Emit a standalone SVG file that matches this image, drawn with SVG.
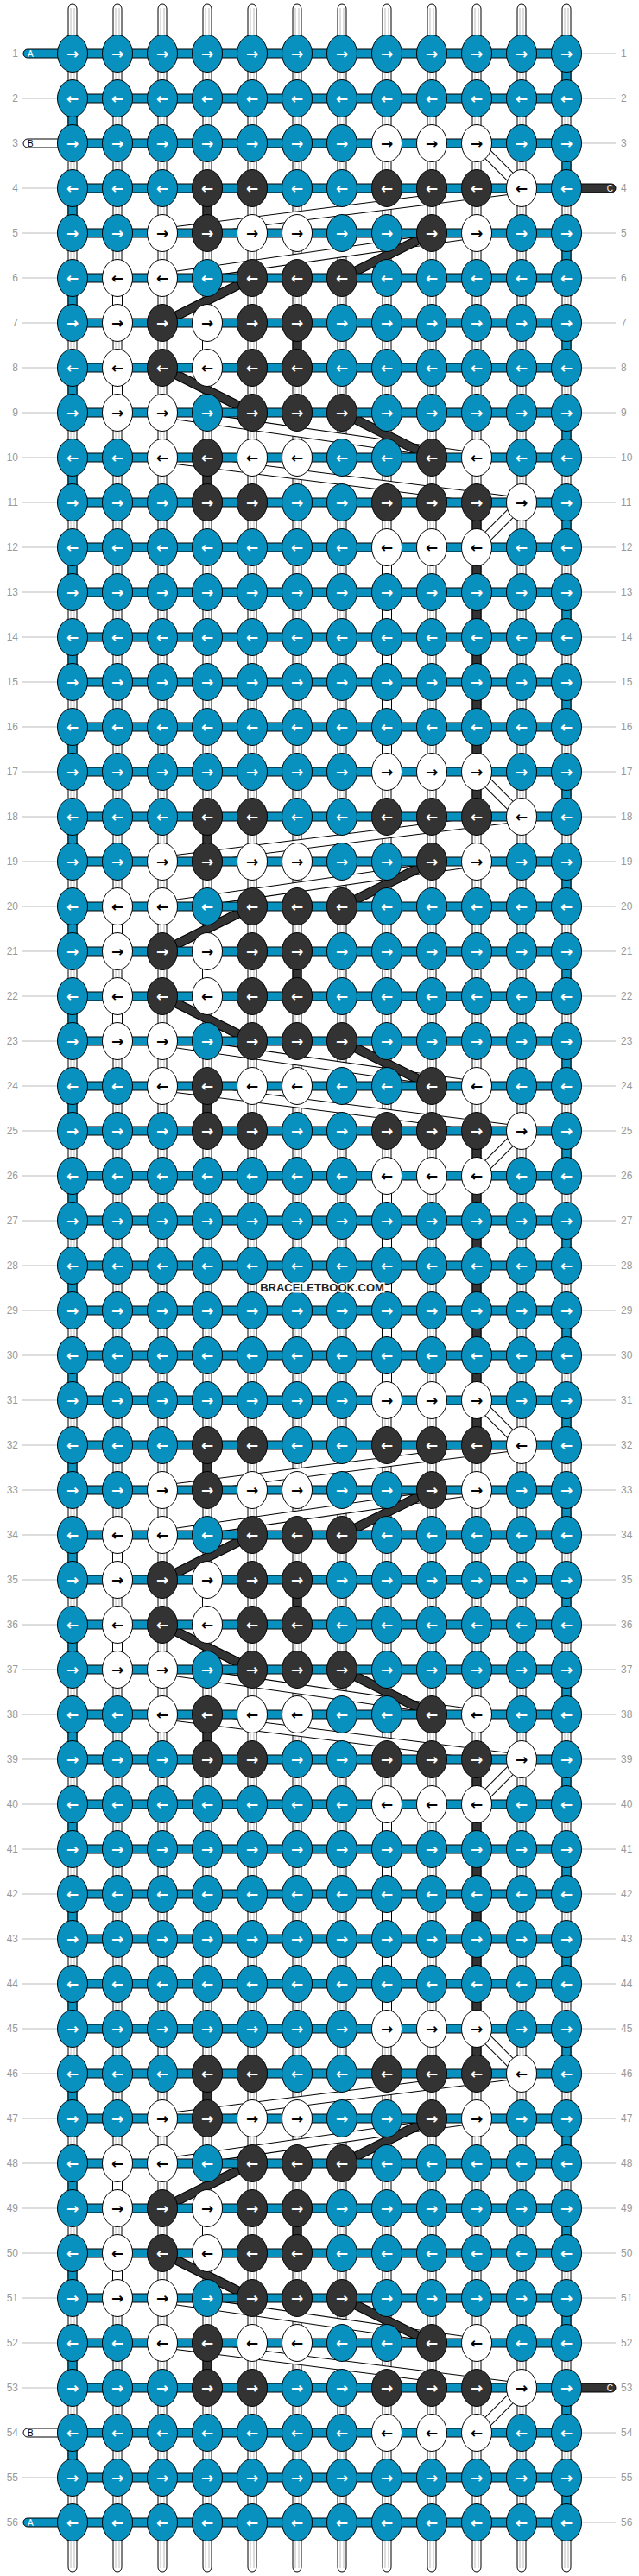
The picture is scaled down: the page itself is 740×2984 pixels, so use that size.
<svg xmlns="http://www.w3.org/2000/svg" width="740" height="2984" viewBox="0 0 740 2984">
<style>
.num{font-family:"Liberation Sans",Arial,sans-serif;font-size:12px;fill:#999}
.numL{text-anchor:end}
.gl{stroke:#bbb;stroke-width:1;fill:none}
.base{fill:#fff;stroke:#000;stroke-width:1}
.basein{stroke:#bbb;stroke-width:1;fill:none}
.ol{fill:none;stroke:#000;stroke-width:11;stroke-linejoin:round}
.fw{fill:none;stroke:#fff;stroke-width:9;stroke-linejoin:round}
.fd{fill:none;stroke:#333;stroke-width:9;stroke-linejoin:round}
.fb{fill:none;stroke:#0891be;stroke-width:9}
.band{fill:#0891be;stroke:#000;stroke-width:1}
.k{stroke:#000;stroke-width:1}
.b{fill:#0891be}.w{fill:#fff}.d{fill:#333}
.ar{font-family:"DejaVu Sans",sans-serif;font-size:17px;font-weight:bold;text-anchor:middle}
.aw{fill:#fff}.ab{fill:#000}
.stubt{font-family:"Liberation Sans",Arial,sans-serif;font-size:10px}
.wm{font-family:"Liberation Sans",Arial,sans-serif;font-size:13px;font-weight:bold;fill:#222;stroke:#fff;stroke-width:3;paint-order:stroke;text-anchor:middle}
</style>
<defs>
<g id="bR"><ellipse class="k b" rx="17.5" ry="21.5"/><text class="ar aw" y="6">→</text></g>
<g id="bL"><ellipse class="k b" rx="17.5" ry="21.5"/><text class="ar aw" y="6">←</text></g>
<g id="wR"><ellipse class="k w" rx="17.5" ry="21.5"/><text class="ar ab" y="6">→</text></g>
<g id="wL"><ellipse class="k w" rx="17.5" ry="21.5"/><text class="ar ab" y="6">←</text></g>
<g id="dR"><ellipse class="k d" rx="17.5" ry="21.5"/><text class="ar aw" y="6">→</text></g>
<g id="dL"><ellipse class="k d" rx="17.5" ry="21.5"/><text class="ar aw" y="6">←</text></g>
<path id="pB" d="M656 62V114M656 166V218M656 270V322M656 374V426M656 478V530M656 582V634M656 686V738M656 790V842M656 894V946M656 998V1050M656 1102V1154M656 1206V1258M656 1310V1362M656 1414V1466M656 1518V1570M656 1622V1674M656 1726V1778M656 1830V1882M656 1934V1986M656 2038V2090M656 2142V2194M656 2246V2298M656 2350V2402M656 2454V2506M656 2558V2610M656 2662V2714M656 2766V2818M656 2870V2922M84 114V166M84 218V270M84 322V374M84 426V478M84 530V582M84 634V686M84 738V790M84 842V894M84 946V998M84 1050V1102M84 1154V1206M84 1258V1310M84 1362V1414M84 1466V1518M84 1570V1622M84 1674V1726M84 1778V1830M84 1882V1934M84 1986V2038M84 2090V2142M84 2194V2246M84 2298V2350M84 2402V2454M84 2506V2558M84 2610V2662M84 2714V2766M84 2818V2870"/>
<path id="pW" d="M552 166L604 218L188 270M552 270L188 322M136 322V374M240 374V426M136 426V478M188 478L552 530M188 530L604 582L552 634M448 634V894M552 894L604 946L188 998M552 998L188 1050M136 1050V1102M240 1102V1154M136 1154V1206M188 1206L552 1258M188 1258L604 1310L552 1362M448 1362V1622M552 1622L604 1674L188 1726M552 1726L188 1778M136 1778V1830M240 1830V1882M136 1882V1934M188 1934L552 1986M188 1986L604 2038L552 2090M448 2090V2350M552 2350L604 2402L188 2454M552 2454L188 2506M136 2506V2558M240 2558V2610M136 2610V2662M188 2662L552 2714M188 2714L604 2766L552 2818"/>
<path id="pD" d="M240 218V270M500 270L396 322M292 322L188 374M344 374V426M188 426L292 478M396 478L500 530M240 530V582M552 582V946M240 946V998M500 998L396 1050M292 1050L188 1102M344 1102V1154M188 1154L292 1206M396 1206L500 1258M240 1258V1310M552 1310V1674M240 1674V1726M500 1726L396 1778M292 1778L188 1830M344 1830V1882M188 1882L292 1934M396 1934L500 1986M240 1986V2038M552 2038V2402M240 2402V2454M500 2454L396 2506M292 2506L188 2558M344 2558V2610M188 2610L292 2662M396 2662L500 2714M240 2714V2766"/>
</defs>
<g id="labels">
<path class="gl" d="M26 114H66M26 218H66M26 270H66M26 322H66M26 374H66M26 426H66M26 478H66M26 530H66M26 582H66M26 634H66M26 686H66M26 738H66M26 790H66M26 842H66M26 894H66M26 946H66M26 998H66M26 1050H66M26 1102H66M26 1154H66M26 1206H66M26 1258H66M26 1310H66M26 1362H66M26 1414H66M26 1466H66M26 1518H66M26 1570H66M26 1622H66M26 1674H66M26 1726H66M26 1778H66M26 1830H66M26 1882H66M26 1934H66M26 1986H66M26 2038H66M26 2090H66M26 2142H66M26 2194H66M26 2246H66M26 2298H66M26 2350H66M26 2402H66M26 2454H66M26 2506H66M26 2558H66M26 2610H66M26 2662H66M26 2714H66M26 2766H66M26 2870H66"/>
<path class="gl" d="M674 62H713M674 114H713M674 166H713M674 270H713M674 322H713M674 374H713M674 426H713M674 478H713M674 530H713M674 582H713M674 634H713M674 686H713M674 738H713M674 790H713M674 842H713M674 894H713M674 946H713M674 998H713M674 1050H713M674 1102H713M674 1154H713M674 1206H713M674 1258H713M674 1310H713M674 1362H713M674 1414H713M674 1466H713M674 1518H713M674 1570H713M674 1622H713M674 1674H713M674 1726H713M674 1778H713M674 1830H713M674 1882H713M674 1934H713M674 1986H713M674 2038H713M674 2090H713M674 2142H713M674 2194H713M674 2246H713M674 2298H713M674 2350H713M674 2402H713M674 2454H713M674 2506H713M674 2558H713M674 2610H713M674 2662H713M674 2714H713M674 2818H713M674 2870H713M674 2922H713"/>
<g class="num numL">
<text x="21" y="66">1</text><text x="21" y="118">2</text><text x="21" y="170">3</text><text x="21" y="222">4</text><text x="21" y="274">5</text><text x="21" y="326">6</text><text x="21" y="378">7</text><text x="21" y="430">8</text><text x="21" y="482">9</text><text x="21" y="534">10</text><text x="21" y="586">11</text><text x="21" y="638">12</text><text x="21" y="690">13</text><text x="21" y="742">14</text><text x="21" y="794">15</text><text x="21" y="846">16</text><text x="21" y="898">17</text><text x="21" y="950">18</text><text x="21" y="1002">19</text><text x="21" y="1054">20</text><text x="21" y="1106">21</text><text x="21" y="1158">22</text><text x="21" y="1210">23</text><text x="21" y="1262">24</text><text x="21" y="1314">25</text><text x="21" y="1366">26</text><text x="21" y="1418">27</text><text x="21" y="1470">28</text><text x="21" y="1522">29</text><text x="21" y="1574">30</text><text x="21" y="1626">31</text><text x="21" y="1678">32</text><text x="21" y="1730">33</text><text x="21" y="1782">34</text><text x="21" y="1834">35</text><text x="21" y="1886">36</text><text x="21" y="1938">37</text><text x="21" y="1990">38</text><text x="21" y="2042">39</text><text x="21" y="2094">40</text><text x="21" y="2146">41</text><text x="21" y="2198">42</text><text x="21" y="2250">43</text><text x="21" y="2302">44</text><text x="21" y="2354">45</text><text x="21" y="2406">46</text><text x="21" y="2458">47</text><text x="21" y="2510">48</text><text x="21" y="2562">49</text><text x="21" y="2614">50</text><text x="21" y="2666">51</text><text x="21" y="2718">52</text><text x="21" y="2770">53</text><text x="21" y="2822">54</text><text x="21" y="2874">55</text><text x="21" y="2926">56</text>
</g>
<g class="num">
<text x="719" y="66">1</text><text x="719" y="118">2</text><text x="719" y="170">3</text><text x="719" y="222">4</text><text x="719" y="274">5</text><text x="719" y="326">6</text><text x="719" y="378">7</text><text x="719" y="430">8</text><text x="719" y="482">9</text><text x="719" y="534">10</text><text x="719" y="586">11</text><text x="719" y="638">12</text><text x="719" y="690">13</text><text x="719" y="742">14</text><text x="719" y="794">15</text><text x="719" y="846">16</text><text x="719" y="898">17</text><text x="719" y="950">18</text><text x="719" y="1002">19</text><text x="719" y="1054">20</text><text x="719" y="1106">21</text><text x="719" y="1158">22</text><text x="719" y="1210">23</text><text x="719" y="1262">24</text><text x="719" y="1314">25</text><text x="719" y="1366">26</text><text x="719" y="1418">27</text><text x="719" y="1470">28</text><text x="719" y="1522">29</text><text x="719" y="1574">30</text><text x="719" y="1626">31</text><text x="719" y="1678">32</text><text x="719" y="1730">33</text><text x="719" y="1782">34</text><text x="719" y="1834">35</text><text x="719" y="1886">36</text><text x="719" y="1938">37</text><text x="719" y="1990">38</text><text x="719" y="2042">39</text><text x="719" y="2094">40</text><text x="719" y="2146">41</text><text x="719" y="2198">42</text><text x="719" y="2250">43</text><text x="719" y="2302">44</text><text x="719" y="2354">45</text><text x="719" y="2406">46</text><text x="719" y="2458">47</text><text x="719" y="2510">48</text><text x="719" y="2562">49</text><text x="719" y="2614">50</text><text x="719" y="2666">51</text><text x="719" y="2718">52</text><text x="719" y="2770">53</text><text x="719" y="2822">54</text><text x="719" y="2874">55</text><text x="719" y="2926">56</text>
</g>
</g>
<g id="base-strands">
<rect class="base" x="79" y="5" width="10" height="2974" rx="5"/><rect class="base" x="131" y="5" width="10" height="2974" rx="5"/><rect class="base" x="183" y="5" width="10" height="2974" rx="5"/><rect class="base" x="235" y="5" width="10" height="2974" rx="5"/><rect class="base" x="287" y="5" width="10" height="2974" rx="5"/><rect class="base" x="339" y="5" width="10" height="2974" rx="5"/><rect class="base" x="391" y="5" width="10" height="2974" rx="5"/><rect class="base" x="443" y="5" width="10" height="2974" rx="5"/><rect class="base" x="495" y="5" width="10" height="2974" rx="5"/><rect class="base" x="547" y="5" width="10" height="2974" rx="5"/><rect class="base" x="599" y="5" width="10" height="2974" rx="5"/><rect class="base" x="651" y="5" width="10" height="2974" rx="5"/>
<path class="basein" d="M82 9V2975M86 9V2975M134 9V2975M138 9V2975M186 9V2975M190 9V2975M238 9V2975M242 9V2975M290 9V2975M294 9V2975M342 9V2975M346 9V2975M394 9V2975M398 9V2975M446 9V2975M450 9V2975M498 9V2975M502 9V2975M550 9V2975M554 9V2975M602 9V2975M606 9V2975M654 9V2975M658 9V2975"/>
</g>
<g id="connectors">
<use href="#pB" class="ol"/><use href="#pB" class="fb"/>
<use href="#pW" class="ol" style="stroke-width:12"/><use href="#pW" class="fw" style="stroke-width:10"/>
<use href="#pD" class="ol"/><use href="#pD" class="fd"/>
</g>
<g id="stubs">
<rect x="27" y="57" width="60" height="10" rx="5" fill="#0891be" stroke="#000"/><text class="stubt" x="32" y="65.5" fill="#fff">A</text>
<rect x="27" y="161" width="60" height="10" rx="5" fill="#fff" stroke="#000"/><text class="stubt" x="32" y="169.5" fill="#000">B</text>
<rect x="650" y="213" width="63" height="10" rx="5" fill="#333" stroke="#000"/><text class="stubt" x="710" y="221.5" fill="#fff" text-anchor="end">C</text>
<rect x="650" y="2761" width="63" height="10" rx="5" fill="#333" stroke="#000"/><text class="stubt" x="710" y="2769.5" fill="#fff" text-anchor="end">C</text>
<rect x="27" y="2813" width="60" height="10" rx="5" fill="#fff" stroke="#000"/><text class="stubt" x="32" y="2821.5" fill="#000">B</text>
<rect x="27" y="2917" width="60" height="10" rx="5" fill="#0891be" stroke="#000"/><text class="stubt" x="32" y="2925.5" fill="#fff">A</text>
</g>
<g id="row-bands">
<path class="band" d="M84 57h572v10h-572zM84 109h572v10h-572zM84 161h572v10h-572zM84 213h572v10h-572zM84 265h572v10h-572zM84 317h572v10h-572zM84 369h572v10h-572zM84 421h572v10h-572zM84 473h572v10h-572zM84 525h572v10h-572zM84 577h572v10h-572zM84 629h572v10h-572zM84 681h572v10h-572zM84 733h572v10h-572zM84 785h572v10h-572zM84 837h572v10h-572zM84 889h572v10h-572zM84 941h572v10h-572zM84 993h572v10h-572zM84 1045h572v10h-572zM84 1097h572v10h-572zM84 1149h572v10h-572zM84 1201h572v10h-572zM84 1253h572v10h-572zM84 1305h572v10h-572zM84 1357h572v10h-572zM84 1409h572v10h-572zM84 1461h572v10h-572zM84 1513h572v10h-572zM84 1565h572v10h-572zM84 1617h572v10h-572zM84 1669h572v10h-572zM84 1721h572v10h-572zM84 1773h572v10h-572zM84 1825h572v10h-572zM84 1877h572v10h-572zM84 1929h572v10h-572zM84 1981h572v10h-572zM84 2033h572v10h-572zM84 2085h572v10h-572zM84 2137h572v10h-572zM84 2189h572v10h-572zM84 2241h572v10h-572zM84 2293h572v10h-572zM84 2345h572v10h-572zM84 2397h572v10h-572zM84 2449h572v10h-572zM84 2501h572v10h-572zM84 2553h572v10h-572zM84 2605h572v10h-572zM84 2657h572v10h-572zM84 2709h572v10h-572zM84 2761h572v10h-572zM84 2813h572v10h-572zM84 2865h572v10h-572zM84 2917h572v10h-572z"/>
</g>
<g id="knots">
<g id="row1" transform="translate(0 62)"><use id="n1-1" href="#bR" x="84"/><use id="n1-2" href="#bR" x="136"/><use id="n1-3" href="#bR" x="188"/><use id="n1-4" href="#bR" x="240"/><use id="n1-5" href="#bR" x="292"/><use id="n1-6" href="#bR" x="344"/><use id="n1-7" href="#bR" x="396"/><use id="n1-8" href="#bR" x="448"/><use id="n1-9" href="#bR" x="500"/><use id="n1-10" href="#bR" x="552"/><use id="n1-11" href="#bR" x="604"/><use id="n1-12" href="#bR" x="656"/></g>
<g id="row2" transform="translate(0 114)"><use id="n2-1" href="#bL" x="84"/><use id="n2-2" href="#bL" x="136"/><use id="n2-3" href="#bL" x="188"/><use id="n2-4" href="#bL" x="240"/><use id="n2-5" href="#bL" x="292"/><use id="n2-6" href="#bL" x="344"/><use id="n2-7" href="#bL" x="396"/><use id="n2-8" href="#bL" x="448"/><use id="n2-9" href="#bL" x="500"/><use id="n2-10" href="#bL" x="552"/><use id="n2-11" href="#bL" x="604"/><use id="n2-12" href="#bL" x="656"/></g>
<g id="row3" transform="translate(0 166)"><use id="n3-1" href="#bR" x="84"/><use id="n3-2" href="#bR" x="136"/><use id="n3-3" href="#bR" x="188"/><use id="n3-4" href="#bR" x="240"/><use id="n3-5" href="#bR" x="292"/><use id="n3-6" href="#bR" x="344"/><use id="n3-7" href="#bR" x="396"/><use id="n3-8" href="#wR" x="448"/><use id="n3-9" href="#wR" x="500"/><use id="n3-10" href="#wR" x="552"/><use id="n3-11" href="#bR" x="604"/><use id="n3-12" href="#bR" x="656"/></g>
<g id="row4" transform="translate(0 218)"><use id="n4-1" href="#bL" x="84"/><use id="n4-2" href="#bL" x="136"/><use id="n4-3" href="#bL" x="188"/><use id="n4-4" href="#dL" x="240"/><use id="n4-5" href="#dL" x="292"/><use id="n4-6" href="#bL" x="344"/><use id="n4-7" href="#bL" x="396"/><use id="n4-8" href="#dL" x="448"/><use id="n4-9" href="#dL" x="500"/><use id="n4-10" href="#dL" x="552"/><use id="n4-11" href="#wL" x="604"/><use id="n4-12" href="#bL" x="656"/></g>
<g id="row5" transform="translate(0 270)"><use id="n5-1" href="#bR" x="84"/><use id="n5-2" href="#bR" x="136"/><use id="n5-3" href="#wR" x="188"/><use id="n5-4" href="#dR" x="240"/><use id="n5-5" href="#wR" x="292"/><use id="n5-6" href="#wR" x="344"/><use id="n5-7" href="#bR" x="396"/><use id="n5-8" href="#bR" x="448"/><use id="n5-9" href="#dR" x="500"/><use id="n5-10" href="#wR" x="552"/><use id="n5-11" href="#bR" x="604"/><use id="n5-12" href="#bR" x="656"/></g>
<g id="row6" transform="translate(0 322)"><use id="n6-1" href="#bL" x="84"/><use id="n6-2" href="#wL" x="136"/><use id="n6-3" href="#wL" x="188"/><use id="n6-4" href="#bL" x="240"/><use id="n6-5" href="#dL" x="292"/><use id="n6-6" href="#dL" x="344"/><use id="n6-7" href="#dL" x="396"/><use id="n6-8" href="#bL" x="448"/><use id="n6-9" href="#bL" x="500"/><use id="n6-10" href="#bL" x="552"/><use id="n6-11" href="#bL" x="604"/><use id="n6-12" href="#bL" x="656"/></g>
<g id="row7" transform="translate(0 374)"><use id="n7-1" href="#bR" x="84"/><use id="n7-2" href="#wR" x="136"/><use id="n7-3" href="#dR" x="188"/><use id="n7-4" href="#wR" x="240"/><use id="n7-5" href="#dR" x="292"/><use id="n7-6" href="#dR" x="344"/><use id="n7-7" href="#bR" x="396"/><use id="n7-8" href="#bR" x="448"/><use id="n7-9" href="#bR" x="500"/><use id="n7-10" href="#bR" x="552"/><use id="n7-11" href="#bR" x="604"/><use id="n7-12" href="#bR" x="656"/></g>
<g id="row8" transform="translate(0 426)"><use id="n8-1" href="#bL" x="84"/><use id="n8-2" href="#wL" x="136"/><use id="n8-3" href="#dL" x="188"/><use id="n8-4" href="#wL" x="240"/><use id="n8-5" href="#dL" x="292"/><use id="n8-6" href="#dL" x="344"/><use id="n8-7" href="#bL" x="396"/><use id="n8-8" href="#bL" x="448"/><use id="n8-9" href="#bL" x="500"/><use id="n8-10" href="#bL" x="552"/><use id="n8-11" href="#bL" x="604"/><use id="n8-12" href="#bL" x="656"/></g>
<g id="row9" transform="translate(0 478)"><use id="n9-1" href="#bR" x="84"/><use id="n9-2" href="#wR" x="136"/><use id="n9-3" href="#wR" x="188"/><use id="n9-4" href="#bR" x="240"/><use id="n9-5" href="#dR" x="292"/><use id="n9-6" href="#dR" x="344"/><use id="n9-7" href="#dR" x="396"/><use id="n9-8" href="#bR" x="448"/><use id="n9-9" href="#bR" x="500"/><use id="n9-10" href="#bR" x="552"/><use id="n9-11" href="#bR" x="604"/><use id="n9-12" href="#bR" x="656"/></g>
<g id="row10" transform="translate(0 530)"><use id="n10-1" href="#bL" x="84"/><use id="n10-2" href="#bL" x="136"/><use id="n10-3" href="#wL" x="188"/><use id="n10-4" href="#dL" x="240"/><use id="n10-5" href="#wL" x="292"/><use id="n10-6" href="#wL" x="344"/><use id="n10-7" href="#bL" x="396"/><use id="n10-8" href="#bL" x="448"/><use id="n10-9" href="#dL" x="500"/><use id="n10-10" href="#wL" x="552"/><use id="n10-11" href="#bL" x="604"/><use id="n10-12" href="#bL" x="656"/></g>
<g id="row11" transform="translate(0 582)"><use id="n11-1" href="#bR" x="84"/><use id="n11-2" href="#bR" x="136"/><use id="n11-3" href="#bR" x="188"/><use id="n11-4" href="#dR" x="240"/><use id="n11-5" href="#dR" x="292"/><use id="n11-6" href="#bR" x="344"/><use id="n11-7" href="#bR" x="396"/><use id="n11-8" href="#dR" x="448"/><use id="n11-9" href="#dR" x="500"/><use id="n11-10" href="#dR" x="552"/><use id="n11-11" href="#wR" x="604"/><use id="n11-12" href="#bR" x="656"/></g>
<g id="row12" transform="translate(0 634)"><use id="n12-1" href="#bL" x="84"/><use id="n12-2" href="#bL" x="136"/><use id="n12-3" href="#bL" x="188"/><use id="n12-4" href="#bL" x="240"/><use id="n12-5" href="#bL" x="292"/><use id="n12-6" href="#bL" x="344"/><use id="n12-7" href="#bL" x="396"/><use id="n12-8" href="#wL" x="448"/><use id="n12-9" href="#wL" x="500"/><use id="n12-10" href="#wL" x="552"/><use id="n12-11" href="#bL" x="604"/><use id="n12-12" href="#bL" x="656"/></g>
<g id="row13" transform="translate(0 686)"><use id="n13-1" href="#bR" x="84"/><use id="n13-2" href="#bR" x="136"/><use id="n13-3" href="#bR" x="188"/><use id="n13-4" href="#bR" x="240"/><use id="n13-5" href="#bR" x="292"/><use id="n13-6" href="#bR" x="344"/><use id="n13-7" href="#bR" x="396"/><use id="n13-8" href="#bR" x="448"/><use id="n13-9" href="#bR" x="500"/><use id="n13-10" href="#bR" x="552"/><use id="n13-11" href="#bR" x="604"/><use id="n13-12" href="#bR" x="656"/></g>
<g id="row14" transform="translate(0 738)"><use id="n14-1" href="#bL" x="84"/><use id="n14-2" href="#bL" x="136"/><use id="n14-3" href="#bL" x="188"/><use id="n14-4" href="#bL" x="240"/><use id="n14-5" href="#bL" x="292"/><use id="n14-6" href="#bL" x="344"/><use id="n14-7" href="#bL" x="396"/><use id="n14-8" href="#bL" x="448"/><use id="n14-9" href="#bL" x="500"/><use id="n14-10" href="#bL" x="552"/><use id="n14-11" href="#bL" x="604"/><use id="n14-12" href="#bL" x="656"/></g>
<g id="row15" transform="translate(0 790)"><use id="n15-1" href="#bR" x="84"/><use id="n15-2" href="#bR" x="136"/><use id="n15-3" href="#bR" x="188"/><use id="n15-4" href="#bR" x="240"/><use id="n15-5" href="#bR" x="292"/><use id="n15-6" href="#bR" x="344"/><use id="n15-7" href="#bR" x="396"/><use id="n15-8" href="#bR" x="448"/><use id="n15-9" href="#bR" x="500"/><use id="n15-10" href="#bR" x="552"/><use id="n15-11" href="#bR" x="604"/><use id="n15-12" href="#bR" x="656"/></g>
<g id="row16" transform="translate(0 842)"><use id="n16-1" href="#bL" x="84"/><use id="n16-2" href="#bL" x="136"/><use id="n16-3" href="#bL" x="188"/><use id="n16-4" href="#bL" x="240"/><use id="n16-5" href="#bL" x="292"/><use id="n16-6" href="#bL" x="344"/><use id="n16-7" href="#bL" x="396"/><use id="n16-8" href="#bL" x="448"/><use id="n16-9" href="#bL" x="500"/><use id="n16-10" href="#bL" x="552"/><use id="n16-11" href="#bL" x="604"/><use id="n16-12" href="#bL" x="656"/></g>
<g id="row17" transform="translate(0 894)"><use id="n17-1" href="#bR" x="84"/><use id="n17-2" href="#bR" x="136"/><use id="n17-3" href="#bR" x="188"/><use id="n17-4" href="#bR" x="240"/><use id="n17-5" href="#bR" x="292"/><use id="n17-6" href="#bR" x="344"/><use id="n17-7" href="#bR" x="396"/><use id="n17-8" href="#wR" x="448"/><use id="n17-9" href="#wR" x="500"/><use id="n17-10" href="#wR" x="552"/><use id="n17-11" href="#bR" x="604"/><use id="n17-12" href="#bR" x="656"/></g>
<g id="row18" transform="translate(0 946)"><use id="n18-1" href="#bL" x="84"/><use id="n18-2" href="#bL" x="136"/><use id="n18-3" href="#bL" x="188"/><use id="n18-4" href="#dL" x="240"/><use id="n18-5" href="#dL" x="292"/><use id="n18-6" href="#bL" x="344"/><use id="n18-7" href="#bL" x="396"/><use id="n18-8" href="#dL" x="448"/><use id="n18-9" href="#dL" x="500"/><use id="n18-10" href="#dL" x="552"/><use id="n18-11" href="#wL" x="604"/><use id="n18-12" href="#bL" x="656"/></g>
<g id="row19" transform="translate(0 998)"><use id="n19-1" href="#bR" x="84"/><use id="n19-2" href="#bR" x="136"/><use id="n19-3" href="#wR" x="188"/><use id="n19-4" href="#dR" x="240"/><use id="n19-5" href="#wR" x="292"/><use id="n19-6" href="#wR" x="344"/><use id="n19-7" href="#bR" x="396"/><use id="n19-8" href="#bR" x="448"/><use id="n19-9" href="#dR" x="500"/><use id="n19-10" href="#wR" x="552"/><use id="n19-11" href="#bR" x="604"/><use id="n19-12" href="#bR" x="656"/></g>
<g id="row20" transform="translate(0 1050)"><use id="n20-1" href="#bL" x="84"/><use id="n20-2" href="#wL" x="136"/><use id="n20-3" href="#wL" x="188"/><use id="n20-4" href="#bL" x="240"/><use id="n20-5" href="#dL" x="292"/><use id="n20-6" href="#dL" x="344"/><use id="n20-7" href="#dL" x="396"/><use id="n20-8" href="#bL" x="448"/><use id="n20-9" href="#bL" x="500"/><use id="n20-10" href="#bL" x="552"/><use id="n20-11" href="#bL" x="604"/><use id="n20-12" href="#bL" x="656"/></g>
<g id="row21" transform="translate(0 1102)"><use id="n21-1" href="#bR" x="84"/><use id="n21-2" href="#wR" x="136"/><use id="n21-3" href="#dR" x="188"/><use id="n21-4" href="#wR" x="240"/><use id="n21-5" href="#dR" x="292"/><use id="n21-6" href="#dR" x="344"/><use id="n21-7" href="#bR" x="396"/><use id="n21-8" href="#bR" x="448"/><use id="n21-9" href="#bR" x="500"/><use id="n21-10" href="#bR" x="552"/><use id="n21-11" href="#bR" x="604"/><use id="n21-12" href="#bR" x="656"/></g>
<g id="row22" transform="translate(0 1154)"><use id="n22-1" href="#bL" x="84"/><use id="n22-2" href="#wL" x="136"/><use id="n22-3" href="#dL" x="188"/><use id="n22-4" href="#wL" x="240"/><use id="n22-5" href="#dL" x="292"/><use id="n22-6" href="#dL" x="344"/><use id="n22-7" href="#bL" x="396"/><use id="n22-8" href="#bL" x="448"/><use id="n22-9" href="#bL" x="500"/><use id="n22-10" href="#bL" x="552"/><use id="n22-11" href="#bL" x="604"/><use id="n22-12" href="#bL" x="656"/></g>
<g id="row23" transform="translate(0 1206)"><use id="n23-1" href="#bR" x="84"/><use id="n23-2" href="#wR" x="136"/><use id="n23-3" href="#wR" x="188"/><use id="n23-4" href="#bR" x="240"/><use id="n23-5" href="#dR" x="292"/><use id="n23-6" href="#dR" x="344"/><use id="n23-7" href="#dR" x="396"/><use id="n23-8" href="#bR" x="448"/><use id="n23-9" href="#bR" x="500"/><use id="n23-10" href="#bR" x="552"/><use id="n23-11" href="#bR" x="604"/><use id="n23-12" href="#bR" x="656"/></g>
<g id="row24" transform="translate(0 1258)"><use id="n24-1" href="#bL" x="84"/><use id="n24-2" href="#bL" x="136"/><use id="n24-3" href="#wL" x="188"/><use id="n24-4" href="#dL" x="240"/><use id="n24-5" href="#wL" x="292"/><use id="n24-6" href="#wL" x="344"/><use id="n24-7" href="#bL" x="396"/><use id="n24-8" href="#bL" x="448"/><use id="n24-9" href="#dL" x="500"/><use id="n24-10" href="#wL" x="552"/><use id="n24-11" href="#bL" x="604"/><use id="n24-12" href="#bL" x="656"/></g>
<g id="row25" transform="translate(0 1310)"><use id="n25-1" href="#bR" x="84"/><use id="n25-2" href="#bR" x="136"/><use id="n25-3" href="#bR" x="188"/><use id="n25-4" href="#dR" x="240"/><use id="n25-5" href="#dR" x="292"/><use id="n25-6" href="#bR" x="344"/><use id="n25-7" href="#bR" x="396"/><use id="n25-8" href="#dR" x="448"/><use id="n25-9" href="#dR" x="500"/><use id="n25-10" href="#dR" x="552"/><use id="n25-11" href="#wR" x="604"/><use id="n25-12" href="#bR" x="656"/></g>
<g id="row26" transform="translate(0 1362)"><use id="n26-1" href="#bL" x="84"/><use id="n26-2" href="#bL" x="136"/><use id="n26-3" href="#bL" x="188"/><use id="n26-4" href="#bL" x="240"/><use id="n26-5" href="#bL" x="292"/><use id="n26-6" href="#bL" x="344"/><use id="n26-7" href="#bL" x="396"/><use id="n26-8" href="#wL" x="448"/><use id="n26-9" href="#wL" x="500"/><use id="n26-10" href="#wL" x="552"/><use id="n26-11" href="#bL" x="604"/><use id="n26-12" href="#bL" x="656"/></g>
<g id="row27" transform="translate(0 1414)"><use id="n27-1" href="#bR" x="84"/><use id="n27-2" href="#bR" x="136"/><use id="n27-3" href="#bR" x="188"/><use id="n27-4" href="#bR" x="240"/><use id="n27-5" href="#bR" x="292"/><use id="n27-6" href="#bR" x="344"/><use id="n27-7" href="#bR" x="396"/><use id="n27-8" href="#bR" x="448"/><use id="n27-9" href="#bR" x="500"/><use id="n27-10" href="#bR" x="552"/><use id="n27-11" href="#bR" x="604"/><use id="n27-12" href="#bR" x="656"/></g>
<g id="row28" transform="translate(0 1466)"><use id="n28-1" href="#bL" x="84"/><use id="n28-2" href="#bL" x="136"/><use id="n28-3" href="#bL" x="188"/><use id="n28-4" href="#bL" x="240"/><use id="n28-5" href="#bL" x="292"/><use id="n28-6" href="#bL" x="344"/><use id="n28-7" href="#bL" x="396"/><use id="n28-8" href="#bL" x="448"/><use id="n28-9" href="#bL" x="500"/><use id="n28-10" href="#bL" x="552"/><use id="n28-11" href="#bL" x="604"/><use id="n28-12" href="#bL" x="656"/></g>
<g id="row29" transform="translate(0 1518)"><use id="n29-1" href="#bR" x="84"/><use id="n29-2" href="#bR" x="136"/><use id="n29-3" href="#bR" x="188"/><use id="n29-4" href="#bR" x="240"/><use id="n29-5" href="#bR" x="292"/><use id="n29-6" href="#bR" x="344"/><use id="n29-7" href="#bR" x="396"/><use id="n29-8" href="#bR" x="448"/><use id="n29-9" href="#bR" x="500"/><use id="n29-10" href="#bR" x="552"/><use id="n29-11" href="#bR" x="604"/><use id="n29-12" href="#bR" x="656"/></g>
<g id="row30" transform="translate(0 1570)"><use id="n30-1" href="#bL" x="84"/><use id="n30-2" href="#bL" x="136"/><use id="n30-3" href="#bL" x="188"/><use id="n30-4" href="#bL" x="240"/><use id="n30-5" href="#bL" x="292"/><use id="n30-6" href="#bL" x="344"/><use id="n30-7" href="#bL" x="396"/><use id="n30-8" href="#bL" x="448"/><use id="n30-9" href="#bL" x="500"/><use id="n30-10" href="#bL" x="552"/><use id="n30-11" href="#bL" x="604"/><use id="n30-12" href="#bL" x="656"/></g>
<g id="row31" transform="translate(0 1622)"><use id="n31-1" href="#bR" x="84"/><use id="n31-2" href="#bR" x="136"/><use id="n31-3" href="#bR" x="188"/><use id="n31-4" href="#bR" x="240"/><use id="n31-5" href="#bR" x="292"/><use id="n31-6" href="#bR" x="344"/><use id="n31-7" href="#bR" x="396"/><use id="n31-8" href="#wR" x="448"/><use id="n31-9" href="#wR" x="500"/><use id="n31-10" href="#wR" x="552"/><use id="n31-11" href="#bR" x="604"/><use id="n31-12" href="#bR" x="656"/></g>
<g id="row32" transform="translate(0 1674)"><use id="n32-1" href="#bL" x="84"/><use id="n32-2" href="#bL" x="136"/><use id="n32-3" href="#bL" x="188"/><use id="n32-4" href="#dL" x="240"/><use id="n32-5" href="#dL" x="292"/><use id="n32-6" href="#bL" x="344"/><use id="n32-7" href="#bL" x="396"/><use id="n32-8" href="#dL" x="448"/><use id="n32-9" href="#dL" x="500"/><use id="n32-10" href="#dL" x="552"/><use id="n32-11" href="#wL" x="604"/><use id="n32-12" href="#bL" x="656"/></g>
<g id="row33" transform="translate(0 1726)"><use id="n33-1" href="#bR" x="84"/><use id="n33-2" href="#bR" x="136"/><use id="n33-3" href="#wR" x="188"/><use id="n33-4" href="#dR" x="240"/><use id="n33-5" href="#wR" x="292"/><use id="n33-6" href="#wR" x="344"/><use id="n33-7" href="#bR" x="396"/><use id="n33-8" href="#bR" x="448"/><use id="n33-9" href="#dR" x="500"/><use id="n33-10" href="#wR" x="552"/><use id="n33-11" href="#bR" x="604"/><use id="n33-12" href="#bR" x="656"/></g>
<g id="row34" transform="translate(0 1778)"><use id="n34-1" href="#bL" x="84"/><use id="n34-2" href="#wL" x="136"/><use id="n34-3" href="#wL" x="188"/><use id="n34-4" href="#bL" x="240"/><use id="n34-5" href="#dL" x="292"/><use id="n34-6" href="#dL" x="344"/><use id="n34-7" href="#dL" x="396"/><use id="n34-8" href="#bL" x="448"/><use id="n34-9" href="#bL" x="500"/><use id="n34-10" href="#bL" x="552"/><use id="n34-11" href="#bL" x="604"/><use id="n34-12" href="#bL" x="656"/></g>
<g id="row35" transform="translate(0 1830)"><use id="n35-1" href="#bR" x="84"/><use id="n35-2" href="#wR" x="136"/><use id="n35-3" href="#dR" x="188"/><use id="n35-4" href="#wR" x="240"/><use id="n35-5" href="#dR" x="292"/><use id="n35-6" href="#dR" x="344"/><use id="n35-7" href="#bR" x="396"/><use id="n35-8" href="#bR" x="448"/><use id="n35-9" href="#bR" x="500"/><use id="n35-10" href="#bR" x="552"/><use id="n35-11" href="#bR" x="604"/><use id="n35-12" href="#bR" x="656"/></g>
<g id="row36" transform="translate(0 1882)"><use id="n36-1" href="#bL" x="84"/><use id="n36-2" href="#wL" x="136"/><use id="n36-3" href="#dL" x="188"/><use id="n36-4" href="#wL" x="240"/><use id="n36-5" href="#dL" x="292"/><use id="n36-6" href="#dL" x="344"/><use id="n36-7" href="#bL" x="396"/><use id="n36-8" href="#bL" x="448"/><use id="n36-9" href="#bL" x="500"/><use id="n36-10" href="#bL" x="552"/><use id="n36-11" href="#bL" x="604"/><use id="n36-12" href="#bL" x="656"/></g>
<g id="row37" transform="translate(0 1934)"><use id="n37-1" href="#bR" x="84"/><use id="n37-2" href="#wR" x="136"/><use id="n37-3" href="#wR" x="188"/><use id="n37-4" href="#bR" x="240"/><use id="n37-5" href="#dR" x="292"/><use id="n37-6" href="#dR" x="344"/><use id="n37-7" href="#dR" x="396"/><use id="n37-8" href="#bR" x="448"/><use id="n37-9" href="#bR" x="500"/><use id="n37-10" href="#bR" x="552"/><use id="n37-11" href="#bR" x="604"/><use id="n37-12" href="#bR" x="656"/></g>
<g id="row38" transform="translate(0 1986)"><use id="n38-1" href="#bL" x="84"/><use id="n38-2" href="#bL" x="136"/><use id="n38-3" href="#wL" x="188"/><use id="n38-4" href="#dL" x="240"/><use id="n38-5" href="#wL" x="292"/><use id="n38-6" href="#wL" x="344"/><use id="n38-7" href="#bL" x="396"/><use id="n38-8" href="#bL" x="448"/><use id="n38-9" href="#dL" x="500"/><use id="n38-10" href="#wL" x="552"/><use id="n38-11" href="#bL" x="604"/><use id="n38-12" href="#bL" x="656"/></g>
<g id="row39" transform="translate(0 2038)"><use id="n39-1" href="#bR" x="84"/><use id="n39-2" href="#bR" x="136"/><use id="n39-3" href="#bR" x="188"/><use id="n39-4" href="#dR" x="240"/><use id="n39-5" href="#dR" x="292"/><use id="n39-6" href="#bR" x="344"/><use id="n39-7" href="#bR" x="396"/><use id="n39-8" href="#dR" x="448"/><use id="n39-9" href="#dR" x="500"/><use id="n39-10" href="#dR" x="552"/><use id="n39-11" href="#wR" x="604"/><use id="n39-12" href="#bR" x="656"/></g>
<g id="row40" transform="translate(0 2090)"><use id="n40-1" href="#bL" x="84"/><use id="n40-2" href="#bL" x="136"/><use id="n40-3" href="#bL" x="188"/><use id="n40-4" href="#bL" x="240"/><use id="n40-5" href="#bL" x="292"/><use id="n40-6" href="#bL" x="344"/><use id="n40-7" href="#bL" x="396"/><use id="n40-8" href="#wL" x="448"/><use id="n40-9" href="#wL" x="500"/><use id="n40-10" href="#wL" x="552"/><use id="n40-11" href="#bL" x="604"/><use id="n40-12" href="#bL" x="656"/></g>
<g id="row41" transform="translate(0 2142)"><use id="n41-1" href="#bR" x="84"/><use id="n41-2" href="#bR" x="136"/><use id="n41-3" href="#bR" x="188"/><use id="n41-4" href="#bR" x="240"/><use id="n41-5" href="#bR" x="292"/><use id="n41-6" href="#bR" x="344"/><use id="n41-7" href="#bR" x="396"/><use id="n41-8" href="#bR" x="448"/><use id="n41-9" href="#bR" x="500"/><use id="n41-10" href="#bR" x="552"/><use id="n41-11" href="#bR" x="604"/><use id="n41-12" href="#bR" x="656"/></g>
<g id="row42" transform="translate(0 2194)"><use id="n42-1" href="#bL" x="84"/><use id="n42-2" href="#bL" x="136"/><use id="n42-3" href="#bL" x="188"/><use id="n42-4" href="#bL" x="240"/><use id="n42-5" href="#bL" x="292"/><use id="n42-6" href="#bL" x="344"/><use id="n42-7" href="#bL" x="396"/><use id="n42-8" href="#bL" x="448"/><use id="n42-9" href="#bL" x="500"/><use id="n42-10" href="#bL" x="552"/><use id="n42-11" href="#bL" x="604"/><use id="n42-12" href="#bL" x="656"/></g>
<g id="row43" transform="translate(0 2246)"><use id="n43-1" href="#bR" x="84"/><use id="n43-2" href="#bR" x="136"/><use id="n43-3" href="#bR" x="188"/><use id="n43-4" href="#bR" x="240"/><use id="n43-5" href="#bR" x="292"/><use id="n43-6" href="#bR" x="344"/><use id="n43-7" href="#bR" x="396"/><use id="n43-8" href="#bR" x="448"/><use id="n43-9" href="#bR" x="500"/><use id="n43-10" href="#bR" x="552"/><use id="n43-11" href="#bR" x="604"/><use id="n43-12" href="#bR" x="656"/></g>
<g id="row44" transform="translate(0 2298)"><use id="n44-1" href="#bL" x="84"/><use id="n44-2" href="#bL" x="136"/><use id="n44-3" href="#bL" x="188"/><use id="n44-4" href="#bL" x="240"/><use id="n44-5" href="#bL" x="292"/><use id="n44-6" href="#bL" x="344"/><use id="n44-7" href="#bL" x="396"/><use id="n44-8" href="#bL" x="448"/><use id="n44-9" href="#bL" x="500"/><use id="n44-10" href="#bL" x="552"/><use id="n44-11" href="#bL" x="604"/><use id="n44-12" href="#bL" x="656"/></g>
<g id="row45" transform="translate(0 2350)"><use id="n45-1" href="#bR" x="84"/><use id="n45-2" href="#bR" x="136"/><use id="n45-3" href="#bR" x="188"/><use id="n45-4" href="#bR" x="240"/><use id="n45-5" href="#bR" x="292"/><use id="n45-6" href="#bR" x="344"/><use id="n45-7" href="#bR" x="396"/><use id="n45-8" href="#wR" x="448"/><use id="n45-9" href="#wR" x="500"/><use id="n45-10" href="#wR" x="552"/><use id="n45-11" href="#bR" x="604"/><use id="n45-12" href="#bR" x="656"/></g>
<g id="row46" transform="translate(0 2402)"><use id="n46-1" href="#bL" x="84"/><use id="n46-2" href="#bL" x="136"/><use id="n46-3" href="#bL" x="188"/><use id="n46-4" href="#dL" x="240"/><use id="n46-5" href="#dL" x="292"/><use id="n46-6" href="#bL" x="344"/><use id="n46-7" href="#bL" x="396"/><use id="n46-8" href="#dL" x="448"/><use id="n46-9" href="#dL" x="500"/><use id="n46-10" href="#dL" x="552"/><use id="n46-11" href="#wL" x="604"/><use id="n46-12" href="#bL" x="656"/></g>
<g id="row47" transform="translate(0 2454)"><use id="n47-1" href="#bR" x="84"/><use id="n47-2" href="#bR" x="136"/><use id="n47-3" href="#wR" x="188"/><use id="n47-4" href="#dR" x="240"/><use id="n47-5" href="#wR" x="292"/><use id="n47-6" href="#wR" x="344"/><use id="n47-7" href="#bR" x="396"/><use id="n47-8" href="#bR" x="448"/><use id="n47-9" href="#dR" x="500"/><use id="n47-10" href="#wR" x="552"/><use id="n47-11" href="#bR" x="604"/><use id="n47-12" href="#bR" x="656"/></g>
<g id="row48" transform="translate(0 2506)"><use id="n48-1" href="#bL" x="84"/><use id="n48-2" href="#wL" x="136"/><use id="n48-3" href="#wL" x="188"/><use id="n48-4" href="#bL" x="240"/><use id="n48-5" href="#dL" x="292"/><use id="n48-6" href="#dL" x="344"/><use id="n48-7" href="#dL" x="396"/><use id="n48-8" href="#bL" x="448"/><use id="n48-9" href="#bL" x="500"/><use id="n48-10" href="#bL" x="552"/><use id="n48-11" href="#bL" x="604"/><use id="n48-12" href="#bL" x="656"/></g>
<g id="row49" transform="translate(0 2558)"><use id="n49-1" href="#bR" x="84"/><use id="n49-2" href="#wR" x="136"/><use id="n49-3" href="#dR" x="188"/><use id="n49-4" href="#wR" x="240"/><use id="n49-5" href="#dR" x="292"/><use id="n49-6" href="#dR" x="344"/><use id="n49-7" href="#bR" x="396"/><use id="n49-8" href="#bR" x="448"/><use id="n49-9" href="#bR" x="500"/><use id="n49-10" href="#bR" x="552"/><use id="n49-11" href="#bR" x="604"/><use id="n49-12" href="#bR" x="656"/></g>
<g id="row50" transform="translate(0 2610)"><use id="n50-1" href="#bL" x="84"/><use id="n50-2" href="#wL" x="136"/><use id="n50-3" href="#dL" x="188"/><use id="n50-4" href="#wL" x="240"/><use id="n50-5" href="#dL" x="292"/><use id="n50-6" href="#dL" x="344"/><use id="n50-7" href="#bL" x="396"/><use id="n50-8" href="#bL" x="448"/><use id="n50-9" href="#bL" x="500"/><use id="n50-10" href="#bL" x="552"/><use id="n50-11" href="#bL" x="604"/><use id="n50-12" href="#bL" x="656"/></g>
<g id="row51" transform="translate(0 2662)"><use id="n51-1" href="#bR" x="84"/><use id="n51-2" href="#wR" x="136"/><use id="n51-3" href="#wR" x="188"/><use id="n51-4" href="#bR" x="240"/><use id="n51-5" href="#dR" x="292"/><use id="n51-6" href="#dR" x="344"/><use id="n51-7" href="#dR" x="396"/><use id="n51-8" href="#bR" x="448"/><use id="n51-9" href="#bR" x="500"/><use id="n51-10" href="#bR" x="552"/><use id="n51-11" href="#bR" x="604"/><use id="n51-12" href="#bR" x="656"/></g>
<g id="row52" transform="translate(0 2714)"><use id="n52-1" href="#bL" x="84"/><use id="n52-2" href="#bL" x="136"/><use id="n52-3" href="#wL" x="188"/><use id="n52-4" href="#dL" x="240"/><use id="n52-5" href="#wL" x="292"/><use id="n52-6" href="#wL" x="344"/><use id="n52-7" href="#bL" x="396"/><use id="n52-8" href="#bL" x="448"/><use id="n52-9" href="#dL" x="500"/><use id="n52-10" href="#wL" x="552"/><use id="n52-11" href="#bL" x="604"/><use id="n52-12" href="#bL" x="656"/></g>
<g id="row53" transform="translate(0 2766)"><use id="n53-1" href="#bR" x="84"/><use id="n53-2" href="#bR" x="136"/><use id="n53-3" href="#bR" x="188"/><use id="n53-4" href="#dR" x="240"/><use id="n53-5" href="#dR" x="292"/><use id="n53-6" href="#bR" x="344"/><use id="n53-7" href="#bR" x="396"/><use id="n53-8" href="#dR" x="448"/><use id="n53-9" href="#dR" x="500"/><use id="n53-10" href="#dR" x="552"/><use id="n53-11" href="#wR" x="604"/><use id="n53-12" href="#bR" x="656"/></g>
<g id="row54" transform="translate(0 2818)"><use id="n54-1" href="#bL" x="84"/><use id="n54-2" href="#bL" x="136"/><use id="n54-3" href="#bL" x="188"/><use id="n54-4" href="#bL" x="240"/><use id="n54-5" href="#bL" x="292"/><use id="n54-6" href="#bL" x="344"/><use id="n54-7" href="#bL" x="396"/><use id="n54-8" href="#wL" x="448"/><use id="n54-9" href="#wL" x="500"/><use id="n54-10" href="#wL" x="552"/><use id="n54-11" href="#bL" x="604"/><use id="n54-12" href="#bL" x="656"/></g>
<g id="row55" transform="translate(0 2870)"><use id="n55-1" href="#bR" x="84"/><use id="n55-2" href="#bR" x="136"/><use id="n55-3" href="#bR" x="188"/><use id="n55-4" href="#bR" x="240"/><use id="n55-5" href="#bR" x="292"/><use id="n55-6" href="#bR" x="344"/><use id="n55-7" href="#bR" x="396"/><use id="n55-8" href="#bR" x="448"/><use id="n55-9" href="#bR" x="500"/><use id="n55-10" href="#bR" x="552"/><use id="n55-11" href="#bR" x="604"/><use id="n55-12" href="#bR" x="656"/></g>
<g id="row56" transform="translate(0 2922)"><use id="n56-1" href="#bL" x="84"/><use id="n56-2" href="#bL" x="136"/><use id="n56-3" href="#bL" x="188"/><use id="n56-4" href="#bL" x="240"/><use id="n56-5" href="#bL" x="292"/><use id="n56-6" href="#bL" x="344"/><use id="n56-7" href="#bL" x="396"/><use id="n56-8" href="#bL" x="448"/><use id="n56-9" href="#bL" x="500"/><use id="n56-10" href="#bL" x="552"/><use id="n56-11" href="#bL" x="604"/><use id="n56-12" href="#bL" x="656"/></g>
</g>
<text id="watermark" class="wm" x="373" y="1496">BRACELETBOOK.COM</text>
</svg>
